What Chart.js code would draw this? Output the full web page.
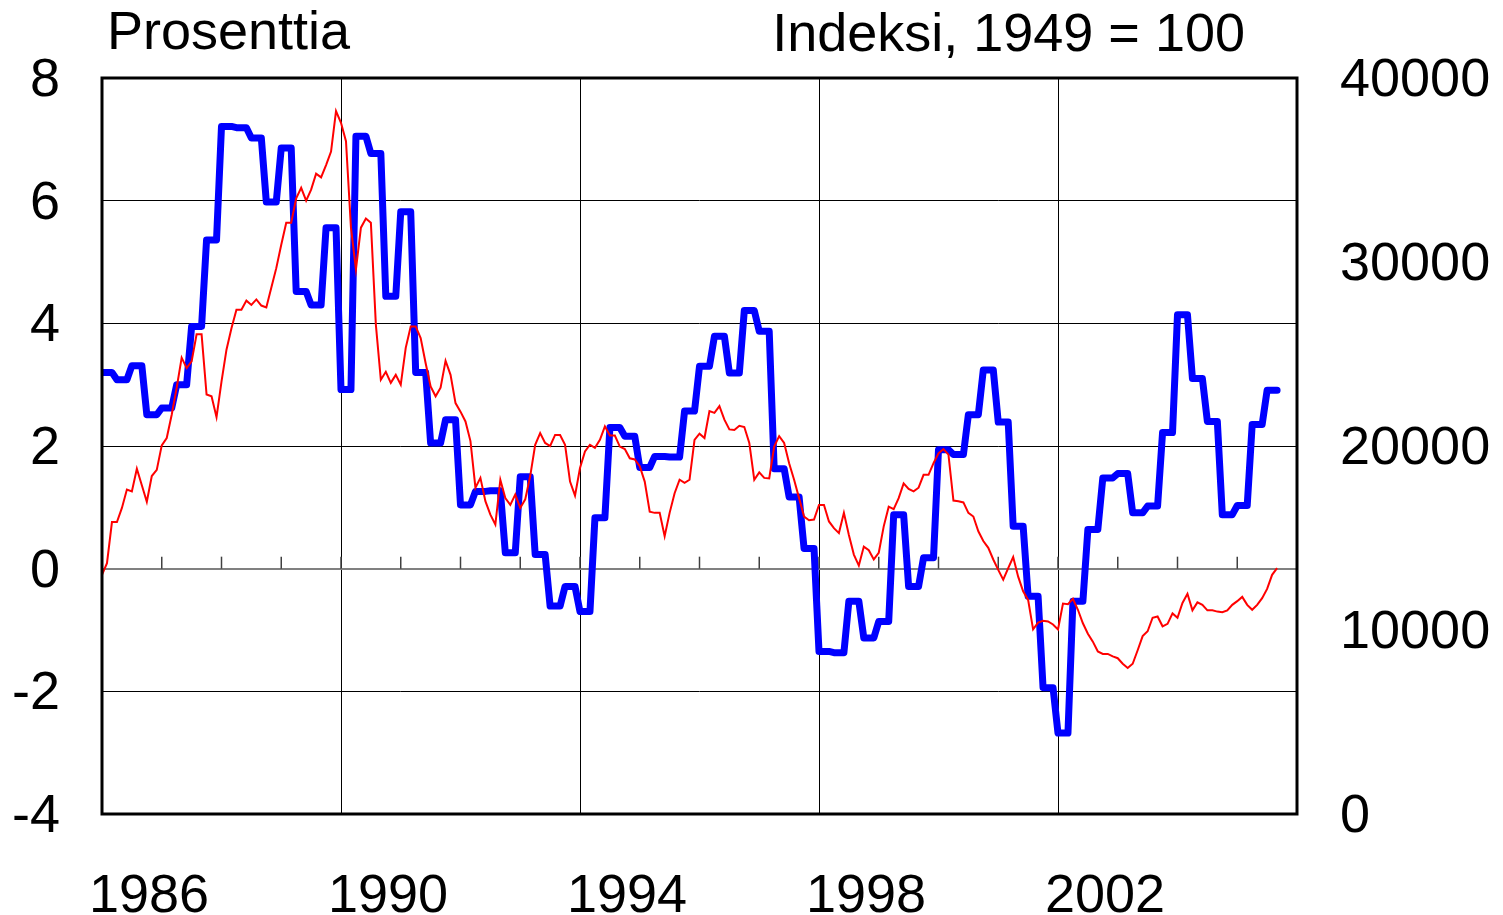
<!DOCTYPE html>
<html>
<head>
<meta charset="utf-8">
<script src="https://cdn.jsdelivr.net/npm/chart.js@4.4.1/dist/chart.umd.min.js"></script>
<style>
  html, body { margin: 0; padding: 0; background: #fff; }
</style>
</head>
<body>
<canvas id="chart" width="1503" height="915"></canvas>
<script>
const startYear = 1986;
const endYear = 2006;
const yearLabels = [1986, 1990, 1994, 1998, 2002];

// quarterly values, 1986Q1 - 2005Q3 (thick blue)
const blueQuarterly = [
  3.20, 3.08, 3.31, 2.51,
  2.62, 3.00, 3.95, 5.36,
  7.21, 7.19, 7.02, 5.98,
  6.86, 4.52, 4.30, 5.56,
  2.92, 7.05, 6.77, 4.44,
  5.82, 3.20, 2.05, 2.43,
  1.04, 1.26, 1.27, 0.26,
  1.50, 0.23, -0.61, -0.29,
  -0.70, 0.83, 2.30, 2.16,
  1.65, 1.83, 1.82, 2.57,
  3.30, 3.79, 3.19, 4.21,
  3.87, 1.63, 1.17, 0.33,
  -1.35, -1.37, -0.53, -1.13,
  -0.86, 0.88, -0.29, 0.18,
  1.94, 1.86, 2.51, 3.24,
  2.39, 0.69, -0.45, -1.94,
  -2.68, -0.53, 0.64, 1.48,
  1.55, 0.91, 1.02, 2.22,
  4.14, 3.10, 2.40, 0.88,
  1.03, 2.35, 2.91
];

// monthly values, Jan 1986 - Sep 2005 (thin red)
const redMonthly = [
  -0.10, 0.09, 0.76, 0.76, 0.99, 1.29, 1.26, 1.63, 1.36, 1.09,
  1.51, 1.61, 2.01, 2.13, 2.51, 2.95, 3.44, 3.27, 3.38, 3.82,
  3.82, 2.84, 2.81, 2.47, 3.05, 3.57, 3.92, 4.22, 4.22, 4.37,
  4.30, 4.39, 4.29, 4.26, 4.58, 4.90, 5.28, 5.64, 5.64, 6.04,
  6.21, 6.00, 6.18, 6.44, 6.38, 6.58, 6.80, 7.46, 7.27, 6.97,
  5.56, 4.88, 5.56, 5.71, 5.64, 3.98, 3.08, 3.21, 3.03, 3.16,
  3.00, 3.60, 3.95, 3.95, 3.76, 3.35, 2.97, 2.81, 2.95, 3.39,
  3.16, 2.70, 2.56, 2.40, 2.08, 1.32, 1.48, 1.10, 0.88, 0.72,
  1.45, 1.15, 1.04, 1.21, 0.99, 1.13, 1.51, 2.02, 2.21, 2.05,
  2.00, 2.18, 2.18, 2.02, 1.42, 1.19, 1.64, 1.91, 2.02, 1.97,
  2.10, 2.32, 2.17, 2.17, 1.99, 1.95, 1.80, 1.78, 1.67, 1.42,
  0.93, 0.91, 0.91, 0.53, 0.91, 1.23, 1.45, 1.40, 1.45, 2.10,
  2.20, 2.13, 2.57, 2.54, 2.65, 2.43, 2.27, 2.26, 2.33, 2.31,
  2.05, 1.45, 1.57, 1.48, 1.47, 1.99, 2.16, 2.05, 1.72, 1.45,
  1.15, 0.85, 0.79, 0.80, 1.04, 1.04, 0.77, 0.66, 0.58, 0.91,
  0.55, 0.23, 0.05, 0.36, 0.30, 0.15, 0.26, 0.69, 1.01, 0.97,
  1.15, 1.39, 1.30, 1.26, 1.32, 1.53, 1.53, 1.72, 1.88, 1.95,
  1.86, 1.11, 1.10, 1.08, 0.91, 0.85, 0.61, 0.45, 0.34, 0.15,
  -0.02, -0.18, 0.01, 0.19, -0.13, -0.37, -0.51, -0.99, -0.88, -0.85,
  -0.86, -0.91, -0.99, -0.57, -0.58, -0.49, -0.67, -0.89, -1.06, -1.19,
  -1.35, -1.39, -1.39, -1.43, -1.46, -1.55, -1.62, -1.55, -1.33, -1.10,
  -1.02, -0.80, -0.78, -0.94, -0.90, -0.73, -0.80, -0.56, -0.41, -0.68,
  -0.55, -0.59, -0.68, -0.68, -0.70, -0.71, -0.68, -0.59, -0.53, -0.46,
  -0.59, -0.67, -0.59, -0.48, -0.33, -0.10, 0.01
];

const FONT = '"Liberation Sans", Arial, sans-serif';

// each quarter's value holds for its three months
const blueMonthly = blueQuarterly.flatMap((v) => [v, v, v]);
const toPoints = (arr) => arr.map((v, i) => ({ x: startYear + i / 12, y: v }));

const frame = {
  id: "frame",
  beforeDatasetsDraw(chart) {
    const { ctx, scales } = chart;
    const y0 = scales.y.getPixelForValue(0);
    ctx.save();
    ctx.strokeStyle = "#404040";
    ctx.lineWidth = 1.5;
    // small year ticks standing on the zero line
    for (let yr = startYear + 1; yr < endYear; yr++) {
      const x = scales.x.getPixelForValue(yr);
      ctx.beginPath();
      ctx.moveTo(x, y0);
      ctx.lineTo(x, y0 - 12);
      ctx.stroke();
    }
    ctx.restore();
  },
  afterDraw(chart) {
    const { ctx, chartArea } = chart;
    ctx.save();
    ctx.strokeStyle = "#000";
    ctx.lineWidth = 3;
    ctx.strokeRect(chartArea.left, chartArea.top, chartArea.right - chartArea.left, chartArea.bottom - chartArea.top);
    ctx.fillStyle = "#000";
    ctx.font = "54px " + FONT;
    ctx.textBaseline = "alphabetic";
    ctx.textAlign = "left";
    ctx.fillText("Prosenttia", chartArea.left + 5, 49);
    ctx.textAlign = "right";
    ctx.fillText("Indeksi, 1949 = 100", 1245, 51);
    ctx.restore();
  },
};

new Chart(document.getElementById("chart"), {
  type: "line",
  data: {
    datasets: [
      {
        data: toPoints(blueMonthly),
        borderColor: "#0000ff",
        borderWidth: 7,
        borderJoinStyle: "round",
        borderCapStyle: "round",
        pointRadius: 0,
        order: 2,
      },
      {
        data: toPoints(redMonthly),
        borderColor: "#ff0000",
        borderWidth: 2,
        pointRadius: 0,
        order: 1,
      },
    ],
  },
  options: {
    responsive: false,
    animation: false,
    devicePixelRatio: 1,
    layout: { padding: { top: 78, left: 0, right: 0, bottom: 0 } },
    plugins: { legend: { display: false }, tooltip: { enabled: false } },
    scales: {
      x: {
        type: "linear",
        min: startYear,
        max: endYear,
        afterFit: (s) => {
          s.height = 101;
          s.paddingLeft = 0;
          s.paddingRight = 0;
        },
        border: { display: false },
        grid: { color: "#000", lineWidth: 1, drawTicks: false },
        ticks: {
          stepSize: 4,
          autoSkip: false,
          maxRotation: 0,
          labelOffset: 47,
          padding: 51,
          color: "#000",
          font: { family: FONT, size: 54 },
          callback: (v) => (yearLabels.includes(v) ? String(v) : ""),
        },
      },
      y: {
        min: -4,
        max: 8,
        afterFit: (s) => { s.width = 102; },
        border: { display: false },
        grid: {
          drawTicks: false,
          color: (c) => (c.tick.value === 0 ? "#808080" : "#000"),
          lineWidth: (c) => (c.tick.value === 0 ? 2 : 1),
        },
        ticks: {
          stepSize: 2,
          padding: 42,
          labelOffset: 3,
          color: "#000",
          font: { family: FONT, size: 54 },
          callback: (v) => String(v),
        },
      },
      y2: {
        position: "right",
        min: 0,
        max: 40000,
        afterFit: (s) => { s.width = 206; },
        border: { display: false },
        grid: { display: false, drawTicks: false },
        ticks: {
          stepSize: 10000,
          padding: 43,
          labelOffset: 3,
          color: "#000",
          font: { family: FONT, size: 54 },
          callback: (v) => String(v),
        },
      },
    },
  },
  plugins: [frame],
});
</script>
</body>
</html>
